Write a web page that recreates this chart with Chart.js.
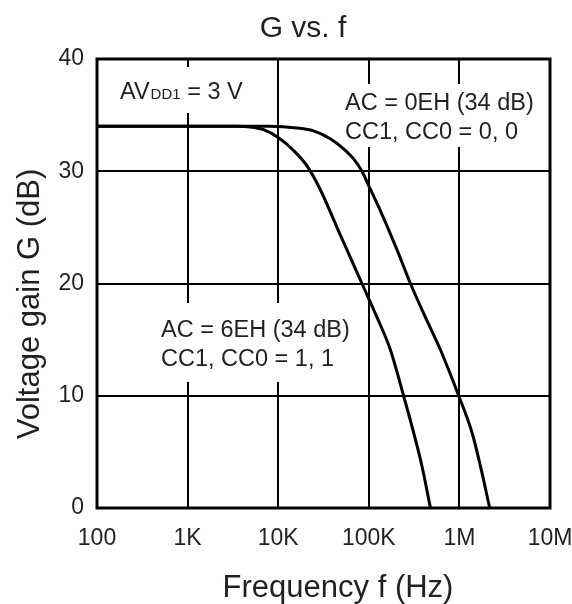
<!DOCTYPE html>
<html lang="en">
<head>
    <meta charset="UTF-8">
    <title>G vs. f</title>
    <script src="https://cdn.jsdelivr.net/npm/chart.js"></script>
    <style>
        body { margin: 0; background: #fff; }
        .container { width: 572px; height: 604px; position: relative; }
    </style>
</head>
<body>
    <div class="container">
        <canvas id="gainChart"></canvas>
    </div>

    <script>
        // curve for AC = 6EH, CC1, CC0 = 1, 1
        const freqA = [100, 1000, 3500, 4900, 6900, 10000, 14800, 20700, 29000, 48000, 57400, 84000, 123000, 173000, 242000, 313000, 387000, 479000];
        const gainA = [34, 34, 34, 33.95, 33.7, 33.0, 31.85, 30.5, 28.4, 24.4, 23, 20, 17, 14.1, 10, 6.7, 3.7, 0];
        // curve for AC = 0EH, CC1, CC0 = 0, 0
        const freqB = [100, 1000, 8000, 16100, 24500, 37600, 52700, 68000, 84000, 104000, 134000, 205000, 288000, 421000, 617000, 982000, 1380000, 1710000, 2160000];
        const gainB = [34, 34, 34, 33.85, 33.6, 32.9, 32, 31.1, 30, 28.4, 26.5, 23, 20, 17, 14.1, 10, 6.7, 3.7, 0];

        const xTickValues = [100, 1000, 10000, 100000, 1000000, 10000000];
        const xTickLabels = ['100', '1K', '10K', '100K', '1M', '10M'];
        const yTickValues = [0, 10, 20, 30, 40];

        const FONT = "'Liberation Sans', Arial, sans-serif";
        const TEXT = '#231f20';

        const toPoints = (xs, ys) => xs.map((x, i) => ({ x: x, y: ys[i] }));

        // white boxes behind the notes (they cut the grid), then the notes
        const notesPlugin = {
            id: 'notes',
            beforeDatasetsDraw(chart) {
                const ctx = chart.ctx;
                ctx.save();
                ctx.fillStyle = '#fff';
                ctx.fillRect(105, 67, 160, 46);
                ctx.fillRect(338, 84, 204, 63);
                ctx.fillRect(152, 303, 200, 79);

                ctx.fillStyle = TEXT;
                ctx.textBaseline = 'alphabetic';
                ctx.textAlign = 'left';
                ctx.font = '23.5px ' + FONT;
                ctx.fillText('AV', 120, 99);
                let w = ctx.measureText('AV').width;
                ctx.font = '15px ' + FONT;
                ctx.fillText('DD1', 120 + w + 1, 99);
                const w2 = ctx.measureText('DD1').width;
                ctx.font = '23.5px ' + FONT;
                ctx.fillText(' = 3 V', 120 + w + w2 + 1, 99);

                ctx.fillText('AC = 0EH (34 dB)', 345, 110);
                ctx.fillText('CC1, CC0 = 0, 0', 345, 139);
                ctx.fillText('AC = 6EH (34 dB)', 161, 337);
                ctx.fillText('CC1, CC0 = 1, 1', 161, 366);
                ctx.restore();
            },
            afterDatasetsDraw(chart) {
                const a = chart.chartArea;
                const ctx = chart.ctx;
                ctx.save();
                ctx.strokeStyle = '#000';
                ctx.lineWidth = 3;
                ctx.strokeRect(a.left, a.top, a.right - a.left, a.bottom - a.top);
                ctx.restore();
            },
            afterDraw(chart) {
                const ctx = chart.ctx;
                ctx.save();
                ctx.fillStyle = TEXT;
                ctx.textAlign = 'center';
                ctx.textBaseline = 'alphabetic';
                ctx.font = '30px ' + FONT;
                ctx.fillText('G vs. f', 303, 37);
                ctx.font = '31px ' + FONT;
                ctx.fillText('Frequency f (Hz)', 338, 597);
                ctx.translate(39, 304);
                ctx.rotate(-Math.PI / 2);
                ctx.fillText('Voltage gain G (dB)', 0, 0);
                ctx.restore();
            }
        };

        const ctx = document.getElementById('gainChart').getContext('2d');
        const gainChart = new Chart(ctx, {
            type: 'line',
            data: {
                datasets: [
                    { data: toPoints(freqA, gainA) },
                    { data: toPoints(freqB, gainB) }
                ]
            },
            options: {
                responsive: true,
                maintainAspectRatio: false,
                animation: false,
                layout: { padding: { top: 59, right: 22, left: 0, bottom: 0 } },
                elements: {
                    line: { borderColor: '#000', borderWidth: 3, cubicInterpolationMode: 'monotone', fill: false },
                    point: { radius: 0 }
                },
                plugins: {
                    legend: { display: false },
                    title: { display: false },
                    tooltip: { enabled: false }
                },
                scales: {
                    x: {
                        type: 'logarithmic',
                        min: 100,
                        max: 10000000,
                        afterBuildTicks: s => { s.ticks = xTickValues.map(v => ({ value: v })); },
                        afterFit: s => { s.height = 96; s.paddingLeft = 0; s.paddingRight = 0; },
                        ticks: {
                            autoSkip: false,
                            maxRotation: 0,
                            padding: 17,
                            color: TEXT,
                            font: { size: 23, family: FONT },
                            callback: (v, i) => xTickLabels[i]
                        },
                        grid: { color: '#000', lineWidth: 2, drawTicks: false },
                        border: { display: false }
                    },
                    y: {
                        min: 0,
                        max: 40,
                        afterBuildTicks: s => { s.ticks = yTickValues.map(v => ({ value: v })); },
                        afterFit: s => { s.width = 97; s.paddingTop = 0; s.paddingBottom = 0; },
                        ticks: {
                            padding: 13,
                            color: TEXT,
                            font: { size: 23, family: FONT }
                        },
                        grid: { color: '#000', lineWidth: 2, drawTicks: false },
                        border: { display: false }
                    }
                }
            },
            plugins: [notesPlugin]
        });
    </script>
</body>
</html>
